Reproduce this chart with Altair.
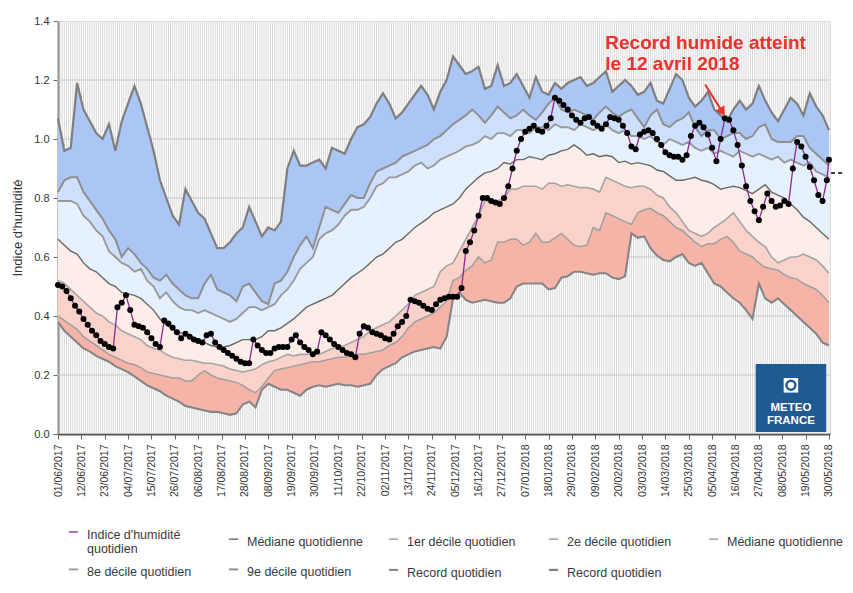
import json
import altair as alt
import pandas as pd

START = pd.Timestamp("2017-06-01")

# ---- data ----
band_days = list(range(0, 364, 3))

record_haut = [1.07,0.96,0.97,1.19,1.10,1.06,1.02,1.00,1.05,0.96,
 1.06,1.12,1.18,1.12,1.04,0.96,0.86,0.80,0.74,0.71,
 0.83,0.79,0.75,0.73,0.68,0.63,0.63,0.65,0.68,0.70,
 0.77,0.72,0.67,0.70,0.69,0.72,0.90,0.96,0.91,0.91,
 0.92,0.93,0.90,0.97,0.96,0.95,1.00,1.04,1.05,1.075,
 1.12,1.155,1.12,1.07,1.09,1.12,1.15,1.18,1.15,1.10,
 1.16,1.20,1.28,1.25,1.22,1.23,1.245,1.17,1.18,1.25,
 1.18,1.19,1.22,1.18,1.14,1.21,1.16,1.15,1.19,1.17,
 1.19,1.20,1.21,1.18,1.19,1.21,1.23,1.16,1.18,1.20,
 1.18,1.15,1.16,1.19,1.13,1.12,1.17,1.22,1.20,1.14,
 1.11,1.13,1.16,1.10,1.08,1.06,1.10,1.13,1.10,1.12,
 1.18,1.13,1.09,1.06,1.10,1.14,1.12,1.08,1.155,1.11,
 1.08,1.03]

decile_9 = [0.82,0.86,0.87,0.87,0.82,0.79,0.76,0.73,0.69,0.66,
 0.60,0.63,0.61,0.58,0.56,0.53,0.52,0.54,0.51,0.49,
 0.47,0.46,0.46,0.51,0.54,0.49,0.48,0.47,0.45,0.50,
 0.51,0.48,0.45,0.44,0.51,0.52,0.55,0.60,0.64,0.67,
 0.63,0.70,0.77,0.76,0.75,0.78,0.81,0.80,0.80,0.85,
 0.89,0.90,0.91,0.92,0.94,0.95,0.96,0.97,0.98,1.00,
 1.01,1.03,1.05,1.065,1.08,1.10,1.08,1.055,1.08,1.11,
 1.09,1.07,1.08,1.10,1.08,1.065,1.09,1.12,1.14,1.10,
 1.09,1.10,1.09,1.08,1.065,1.09,1.11,1.09,1.075,1.09,
 1.10,1.07,1.04,1.08,1.10,1.05,1.04,1.06,1.07,1.09,
 1.04,1.01,1.03,1.03,1.00,1.01,1.02,1.02,1.00,1.01,
 1.04,1.05,1.00,0.99,0.99,0.99,1.01,1.01,0.97,0.95,
 0.93,0.91]

decile_8 = [0.79,0.79,0.79,0.78,0.74,0.72,0.69,0.67,0.62,0.60,
 0.58,0.57,0.55,0.56,0.52,0.50,0.46,0.48,0.45,0.43,
 0.42,0.42,0.41,0.42,0.41,0.40,0.39,0.38,0.39,0.41,
 0.43,0.43,0.42,0.43,0.44,0.47,0.49,0.52,0.56,0.58,
 0.60,0.66,0.68,0.69,0.71,0.74,0.76,0.76,0.77,0.80,
 0.84,0.85,0.87,0.87,0.88,0.89,0.91,0.92,0.90,0.91,
 0.93,0.94,0.95,0.96,0.975,0.98,0.99,1.01,1.00,1.02,
 1.02,1.01,1.03,1.03,1.02,1.04,1.04,1.03,1.05,1.04,
 1.04,1.03,1.05,1.04,1.03,1.04,1.05,1.03,1.02,1.03,
 1.01,1.01,1.00,1.01,0.99,0.98,1.00,0.99,0.98,0.99,
 0.97,0.96,0.97,0.95,0.96,0.95,0.94,0.96,0.95,0.94,
 0.95,0.94,0.93,0.94,0.92,0.93,0.92,0.91,0.92,0.89,
 0.88,0.87]

mediane = [0.66,0.64,0.62,0.61,0.58,0.56,0.55,0.53,0.51,0.50,
 0.48,0.475,0.47,0.46,0.44,0.42,0.39,0.37,0.355,0.345,
 0.335,0.33,0.32,0.31,0.30,0.295,0.295,0.30,0.31,0.32,
 0.32,0.32,0.33,0.35,0.35,0.36,0.375,0.39,0.41,0.43,
 0.44,0.45,0.46,0.47,0.49,0.51,0.53,0.545,0.56,0.58,
 0.60,0.61,0.63,0.65,0.66,0.68,0.70,0.715,0.73,0.75,
 0.76,0.77,0.78,0.80,0.83,0.85,0.87,0.885,0.89,0.90,
 0.92,0.915,0.93,0.93,0.94,0.935,0.93,0.945,0.95,0.96,
 0.965,0.98,0.965,0.945,0.95,0.94,0.945,0.94,0.92,0.925,
 0.915,0.92,0.915,0.91,0.895,0.89,0.875,0.86,0.86,0.865,
 0.87,0.86,0.855,0.845,0.83,0.835,0.84,0.835,0.825,0.815,
 0.83,0.845,0.82,0.81,0.80,0.78,0.76,0.735,0.72,0.70,
 0.68,0.66]

decile_2 = [0.52,0.51,0.49,0.47,0.45,0.43,0.41,0.40,0.38,0.37,
 0.35,0.34,0.33,0.32,0.30,0.29,0.285,0.27,0.26,0.255,
 0.25,0.25,0.245,0.24,0.24,0.235,0.23,0.22,0.215,0.21,
 0.215,0.22,0.235,0.245,0.25,0.26,0.27,0.265,0.27,0.27,
 0.275,0.27,0.28,0.29,0.295,0.30,0.31,0.32,0.33,0.35,
 0.36,0.37,0.38,0.40,0.42,0.44,0.47,0.48,0.49,0.50,
 0.55,0.57,0.58,0.62,0.66,0.70,0.74,0.79,0.79,0.79,
 0.80,0.83,0.83,0.84,0.84,0.84,0.83,0.85,0.85,0.84,
 0.845,0.84,0.835,0.835,0.83,0.82,0.87,0.86,0.85,0.84,
 0.835,0.84,0.84,0.83,0.81,0.80,0.77,0.75,0.72,0.69,
 0.68,0.67,0.68,0.70,0.715,0.73,0.75,0.72,0.69,0.67,
 0.65,0.635,0.60,0.58,0.59,0.60,0.60,0.61,0.60,0.59,
 0.57,0.545]

decile_1 = [0.40,0.385,0.37,0.355,0.33,0.315,0.30,0.285,0.27,0.26,
 0.25,0.24,0.235,0.225,0.21,0.205,0.20,0.195,0.19,0.19,
 0.18,0.18,0.20,0.215,0.20,0.19,0.185,0.18,0.175,0.165,
 0.15,0.14,0.16,0.19,0.215,0.22,0.225,0.23,0.235,0.24,
 0.245,0.245,0.25,0.255,0.26,0.26,0.265,0.27,0.27,0.275,
 0.28,0.285,0.30,0.31,0.33,0.36,0.38,0.39,0.40,0.41,
 0.43,0.45,0.52,0.53,0.555,0.57,0.60,0.58,0.59,0.65,
 0.65,0.66,0.66,0.64,0.65,0.68,0.65,0.65,0.665,0.68,
 0.66,0.64,0.635,0.64,0.70,0.69,0.75,0.74,0.73,0.72,
 0.71,0.75,0.76,0.765,0.75,0.74,0.72,0.70,0.69,0.67,
 0.65,0.635,0.645,0.645,0.66,0.67,0.65,0.62,0.61,0.60,
 0.58,0.565,0.56,0.555,0.54,0.53,0.525,0.51,0.50,0.49,
 0.47,0.445]

record_bas = [0.38,0.35,0.33,0.31,0.29,0.28,0.265,0.255,0.245,0.23,
 0.22,0.21,0.195,0.18,0.165,0.155,0.145,0.13,0.12,0.11,
 0.095,0.09,0.085,0.08,0.075,0.075,0.07,0.065,0.07,0.10,
 0.11,0.09,0.15,0.17,0.16,0.15,0.15,0.14,0.13,0.15,
 0.16,0.165,0.16,0.165,0.17,0.165,0.165,0.16,0.165,0.17,
 0.20,0.22,0.23,0.24,0.26,0.27,0.28,0.285,0.29,0.295,
 0.29,0.33,0.46,0.48,0.455,0.445,0.45,0.455,0.45,0.445,
 0.445,0.46,0.50,0.51,0.51,0.51,0.51,0.49,0.495,0.53,
 0.535,0.55,0.55,0.545,0.54,0.545,0.545,0.53,0.525,0.535,
 0.68,0.665,0.67,0.63,0.605,0.59,0.585,0.60,0.61,0.58,
 0.57,0.58,0.545,0.51,0.50,0.48,0.46,0.445,0.42,0.39,
 0.51,0.46,0.445,0.46,0.44,0.42,0.40,0.38,0.36,0.34,
 0.31,0.30]

indice_days = list(range(0, 363, 2)) + [363]
indice = [0.505,0.50,0.485,0.46,0.435,0.415,0.39,0.37,0.35,0.335,
 0.315,0.305,0.295,0.29,0.43,0.445,0.47,0.42,0.37,0.365,
 0.36,0.345,0.325,0.305,0.295,0.385,0.375,0.36,0.345,0.325,
 0.34,0.33,0.32,0.315,0.31,0.335,0.34,0.31,0.295,0.285,
 0.275,0.265,0.255,0.245,0.24,0.24,0.32,0.30,0.285,0.275,
 0.275,0.29,0.295,0.295,0.295,0.32,0.335,0.31,0.295,0.285,
 0.27,0.28,0.345,0.335,0.32,0.305,0.295,0.285,0.275,0.27,
 0.26,0.34,0.365,0.36,0.345,0.34,0.335,0.325,0.32,0.34,
 0.365,0.38,0.40,0.455,0.45,0.445,0.435,0.425,0.42,0.44,
 0.455,0.46,0.465,0.465,0.465,0.495,0.62,0.65,0.69,0.74,
 0.80,0.80,0.79,0.785,0.78,0.80,0.84,0.90,0.96,1.00,
 1.025,1.035,1.045,1.03,1.025,1.045,1.07,1.14,1.13,1.115,
 1.10,1.08,1.065,1.055,1.07,1.075,1.055,1.045,1.035,1.05,
 1.075,1.07,1.065,1.045,1.02,0.975,0.965,1.015,1.025,1.03,
 1.02,1.0,0.98,0.955,0.945,0.94,0.94,0.93,0.945,1.01,
 1.045,1.055,1.04,1.015,0.97,0.925,1.00,1.07,1.065,1.03,
 0.98,0.91,0.84,0.79,0.755,0.725,0.77,0.815,0.79,0.77,
 0.775,0.79,0.78,0.90,0.99,0.975,0.94,0.905,0.86,0.81,
 0.79,0.86,0.93]

dernier_niveau = 0.885          # dashed marker at the right edge
marker_days = [364, 372.5]
tick_days = list(range(0, 364, 11))
y_ticks = [0.0, 0.2, 0.4, 0.6, 0.8, 1.0, 1.2, 1.4]

annot_text = ["Record humide atteint", "le 12 avril 2018"]
annot_day = 257.7
annot_vals = [1.326, 1.255]
arrow_days = [304.7, 312.8]
arrow_vals = [1.185, 1.092]

logo_days = [328.5, 361.7]
logo_vals = [0.007, 0.237]
logo_text = ["METEO", "FRANCE"]
logo_text_vals = [0.089, 0.043]
logo_center_day = 345.1
logo_icon_val = 0.165

for arr in [record_haut, decile_9, decile_8, mediane, decile_2, decile_1, record_bas]:
    assert len(arr) == len(band_days), len(arr)
assert len(indice) == len(indice_days)


def iso(day):
    return (START + pd.Timedelta(days=float(day))).strftime("%Y-%m-%dT%H:%M:%S")


band_dates = [iso(d) for d in band_days]

# ---- tables ----
band_keys = ["b1", "b2", "b3", "b4", "b5", "b6"]
band_colors = ["#f6b4a8", "#fad2c9", "#fdede8", "#e7f0fd", "#cddffb", "#abc6f5"]
bounds = [record_bas, decile_1, decile_2, mediane, decile_8, decile_9, record_haut]
rows = []
for bi, key in enumerate(band_keys):
    lo, hi = bounds[bi], bounds[bi + 1]
    for d, a, b in zip(band_dates, lo, hi):
        rows.append({"date": d, "lo": a, "hi": b, "band": key})
bands_df = pd.DataFrame(rows)

series = {"rl": record_bas, "d1": decile_1, "d2": decile_2, "med": mediane,
          "d8": decile_8, "d9": decile_9, "rh": record_haut}
rows = []
for key, vals in series.items():
    for d, v in zip(band_dates, vals):
        rows.append({"date": d, "v": v, "serie": key})
for d, v in zip(indice_days, indice):
    rows.append({"date": iso(d), "v": v, "serie": "idx"})
lines_df = pd.DataFrame(rows)
idx_df = lines_df[lines_df["serie"] == "idx"]

legend_keys = ["idx", "med", "d1", "d2", "med2", "d8", "d9", "rl", "rh"]
legend_colors = ["#8a2a90", "#6a6a6a", "#a0a0a0", "#a6a6a6", "#b0b0b0",
                 "#999999", "#8f8f8f", "#858585", "#7f7f7f"]
legend_widths = [1.3, 2.2, 1.3, 1.3, 1.3, 1.3, 1.3, 1.5, 1.5]
legend_labels = {
    "idx": ["Indice d'humidité", "quotidien"],
    "med": "Médiane quotidienne",
    "d1": "1er décile quotidien",
    "d2": "2e décile quotidien",
    "med2": "Médiane quotidienne",
    "d8": "8e décile quotidien",
    "d9": "9e décile quotidien",
    "rl": ["Record quotidien", "bas"],
    "rh": ["Record quotidien", "haut"],
}
label_expr = ""
for k, lab in legend_labels.items():
    label_expr += 'datum.value == "%s" ? %s : ' % (k, json.dumps(lab, ensure_ascii=False))
label_expr += "datum.label"

stripe_df = pd.DataFrame({"date": [iso(d) for d in range(0, 364)]})
grid_df = pd.DataFrame({"v": y_ticks[1:-1]})

# ---- scales / axes ----
def dt(day):
    t = START + pd.Timedelta(days=day)
    return alt.DateTime(year=t.year, month=t.month, date=t.day)

x_scale = alt.Scale(domain=[alt.DateTime(year=2017, month=6, date=1),
                            alt.DateTime(year=2018, month=5, date=30, hours=12)])
y_scale = alt.Scale(domain=[0, 1.4], nice=False, zero=False)

x_axis = alt.Axis(values=[dt(d) for d in tick_days], format="%d/%m/%Y", formatType="time",
                  labelAngle=-90, labelFontSize=10.5, labelColor="#333333", labelOverlap=False,
                  labelPadding=5, tickSize=5, tickColor="#666666", domainColor="#555555",
                  domainWidth=2, grid=False, title=None, labelFlush=False)
y_axis = alt.Axis(values=y_ticks, format=".1f", labelFontSize=11, labelColor="#333333",
                  tickSize=5, tickColor="#666666", labelPadding=4, domainColor="#555555",
                  domainWidth=2, grid=False, title="Indice d'humidité", titleFontSize=13,
                  titleFontWeight="normal", titleColor="#333333", titlePadding=9)

X = lambda f: alt.X(f, type="temporal", scale=x_scale, axis=x_axis)

stripes = alt.Chart(stripe_df).mark_rule(color="#d9d9d9", strokeWidth=1).encode(
    x=X("date"), y=alt.datum(0, scale=y_scale), y2=alt.datum(1.4))

hgrid = alt.Chart(grid_df).mark_rule(color="#c8c8c8", strokeWidth=1).encode(
    y=alt.Y("v:Q", scale=y_scale, axis=y_axis))

areas = alt.Chart(bands_df).mark_area(interpolate="linear", opacity=1).encode(
    x=X("date"),
    y=alt.Y("hi:Q", scale=y_scale, axis=y_axis),
    y2="lo:Q",
    fill=alt.Fill("band:N", scale=alt.Scale(domain=band_keys, range=band_colors), legend=None),
)

lines = alt.Chart(lines_df).mark_line(interpolate="linear").encode(
    x=X("date"),
    y=alt.Y("v:Q", scale=y_scale, axis=y_axis),
    stroke=alt.Stroke("serie:N", scale=alt.Scale(domain=legend_keys, range=legend_colors),
                      legend=alt.Legend(title=None, orient="none", legendX=5, legendY=497,
                                        direction="horizontal", columns=5, gridAlign="all",
                                        columnPadding=19, rowPadding=-4.5, labelExpr=label_expr,
                                        labelFont="Liberation Sans", labelFontSize=12.5,
                                        labelColor="#3a3a3a", labelBaseline="top",
                                        labelLimit=220, labelOffset=3,
                                        symbolType="M-0.5,0.38L0.5,0.38",
                                        symbolSize=324, symbolStrokeWidth=1.8)),
    strokeWidth=alt.StrokeWidth("serie:N", scale=alt.Scale(domain=legend_keys, range=legend_widths),
                                legend=None),
    detail="serie:N",
)

points = alt.Chart(idx_df).mark_circle(size=36, color="#000000", opacity=1).encode(
    x=X("date"), y=alt.Y("v:Q", scale=y_scale, axis=y_axis))

marker_df = pd.DataFrame({"d1": [iso(marker_days[0])], "d2": [iso(marker_days[1])],
                          "v": [dernier_niveau]})
marker = alt.Chart(marker_df).mark_rule(color="#000000", strokeWidth=1.5, strokeDash=[4, 3]).encode(
    x=X("d1"), x2="d2:T", y=alt.Y("v:Q", scale=y_scale, axis=y_axis))

annot_df = pd.DataFrame({"date": [iso(annot_day)] * 2, "v": annot_vals, "t": annot_text})
annot = alt.Chart(annot_df).mark_text(align="left", baseline="middle", font="Liberation Sans",
                                      fontSize=19, fontWeight="bold", color="#e8322c").encode(
    x=X("date"), y=alt.Y("v:Q", scale=y_scale, axis=y_axis), text="t:N")

arrow_df = pd.DataFrame({"date": [iso(d) for d in arrow_days], "v": arrow_vals})
arrow_line = alt.Chart(arrow_df).mark_line(color="#e8322c", strokeWidth=2).encode(
    x=X("date"), y=alt.Y("v:Q", scale=y_scale, axis=y_axis))
arrow_head = alt.Chart(arrow_df.iloc[[1]]).mark_point(
    shape="triangle-down", filled=True, size=110, color="#e8322c", angle=329, opacity=1).encode(
    x=X("date"), y=alt.Y("v:Q", scale=y_scale, axis=y_axis))

logo_df = pd.DataFrame({"x1": [iso(logo_days[0])], "x2": [iso(logo_days[1])],
                        "y1": [logo_vals[0]], "y2": [logo_vals[1]]})
logo_box = alt.Chart(logo_df).mark_rect(color="#1f5a93").encode(
    x=X("x1"), x2="x2:T", y=alt.Y("y1:Q", scale=y_scale, axis=y_axis), y2="y2:Q")
logo_txt_df = pd.DataFrame({"date": [iso(logo_center_day)] * 2, "v": logo_text_vals, "t": logo_text})
logo_txt = alt.Chart(logo_txt_df).mark_text(align="center", baseline="middle", font="Liberation Sans",
                                            fontSize=11.5, fontWeight="bold", color="white").encode(
    x=X("date"), y=alt.Y("v:Q", scale=y_scale, axis=y_axis), text="t:N")
icon_df = pd.DataFrame({"date": [iso(logo_center_day)], "v": [logo_icon_val]})
icon_sq = alt.Chart(icon_df).mark_point(shape="square", filled=True, size=210, color="white", opacity=1).encode(
    x=X("date"), y=alt.Y("v:Q", scale=y_scale, axis=y_axis))
icon_c = alt.Chart(icon_df).mark_point(shape="circle", filled=False, size=80, color="#1f5a93",
                                       strokeWidth=2.5, opacity=1).encode(
    x=X("date"), y=alt.Y("v:Q", scale=y_scale, axis=y_axis))

chart = alt.layer(
    stripes, hgrid, areas, lines, points, marker, annot, arrow_line, arrow_head,
    logo_box, icon_sq, icon_c, logo_txt,
).properties(
    width=772, height=413,
    autosize=alt.AutoSizeParams(type="none"),
    padding={"left": 50, "top": 13, "right": 15, "bottom": 146},
).configure_view(
    fill="#f5f5f5", stroke="#707070", strokeWidth=1.5
).configure(font="Liberation Sans")

chart.save("out.html", embed_options={"renderer": "svg", "actions": False})
